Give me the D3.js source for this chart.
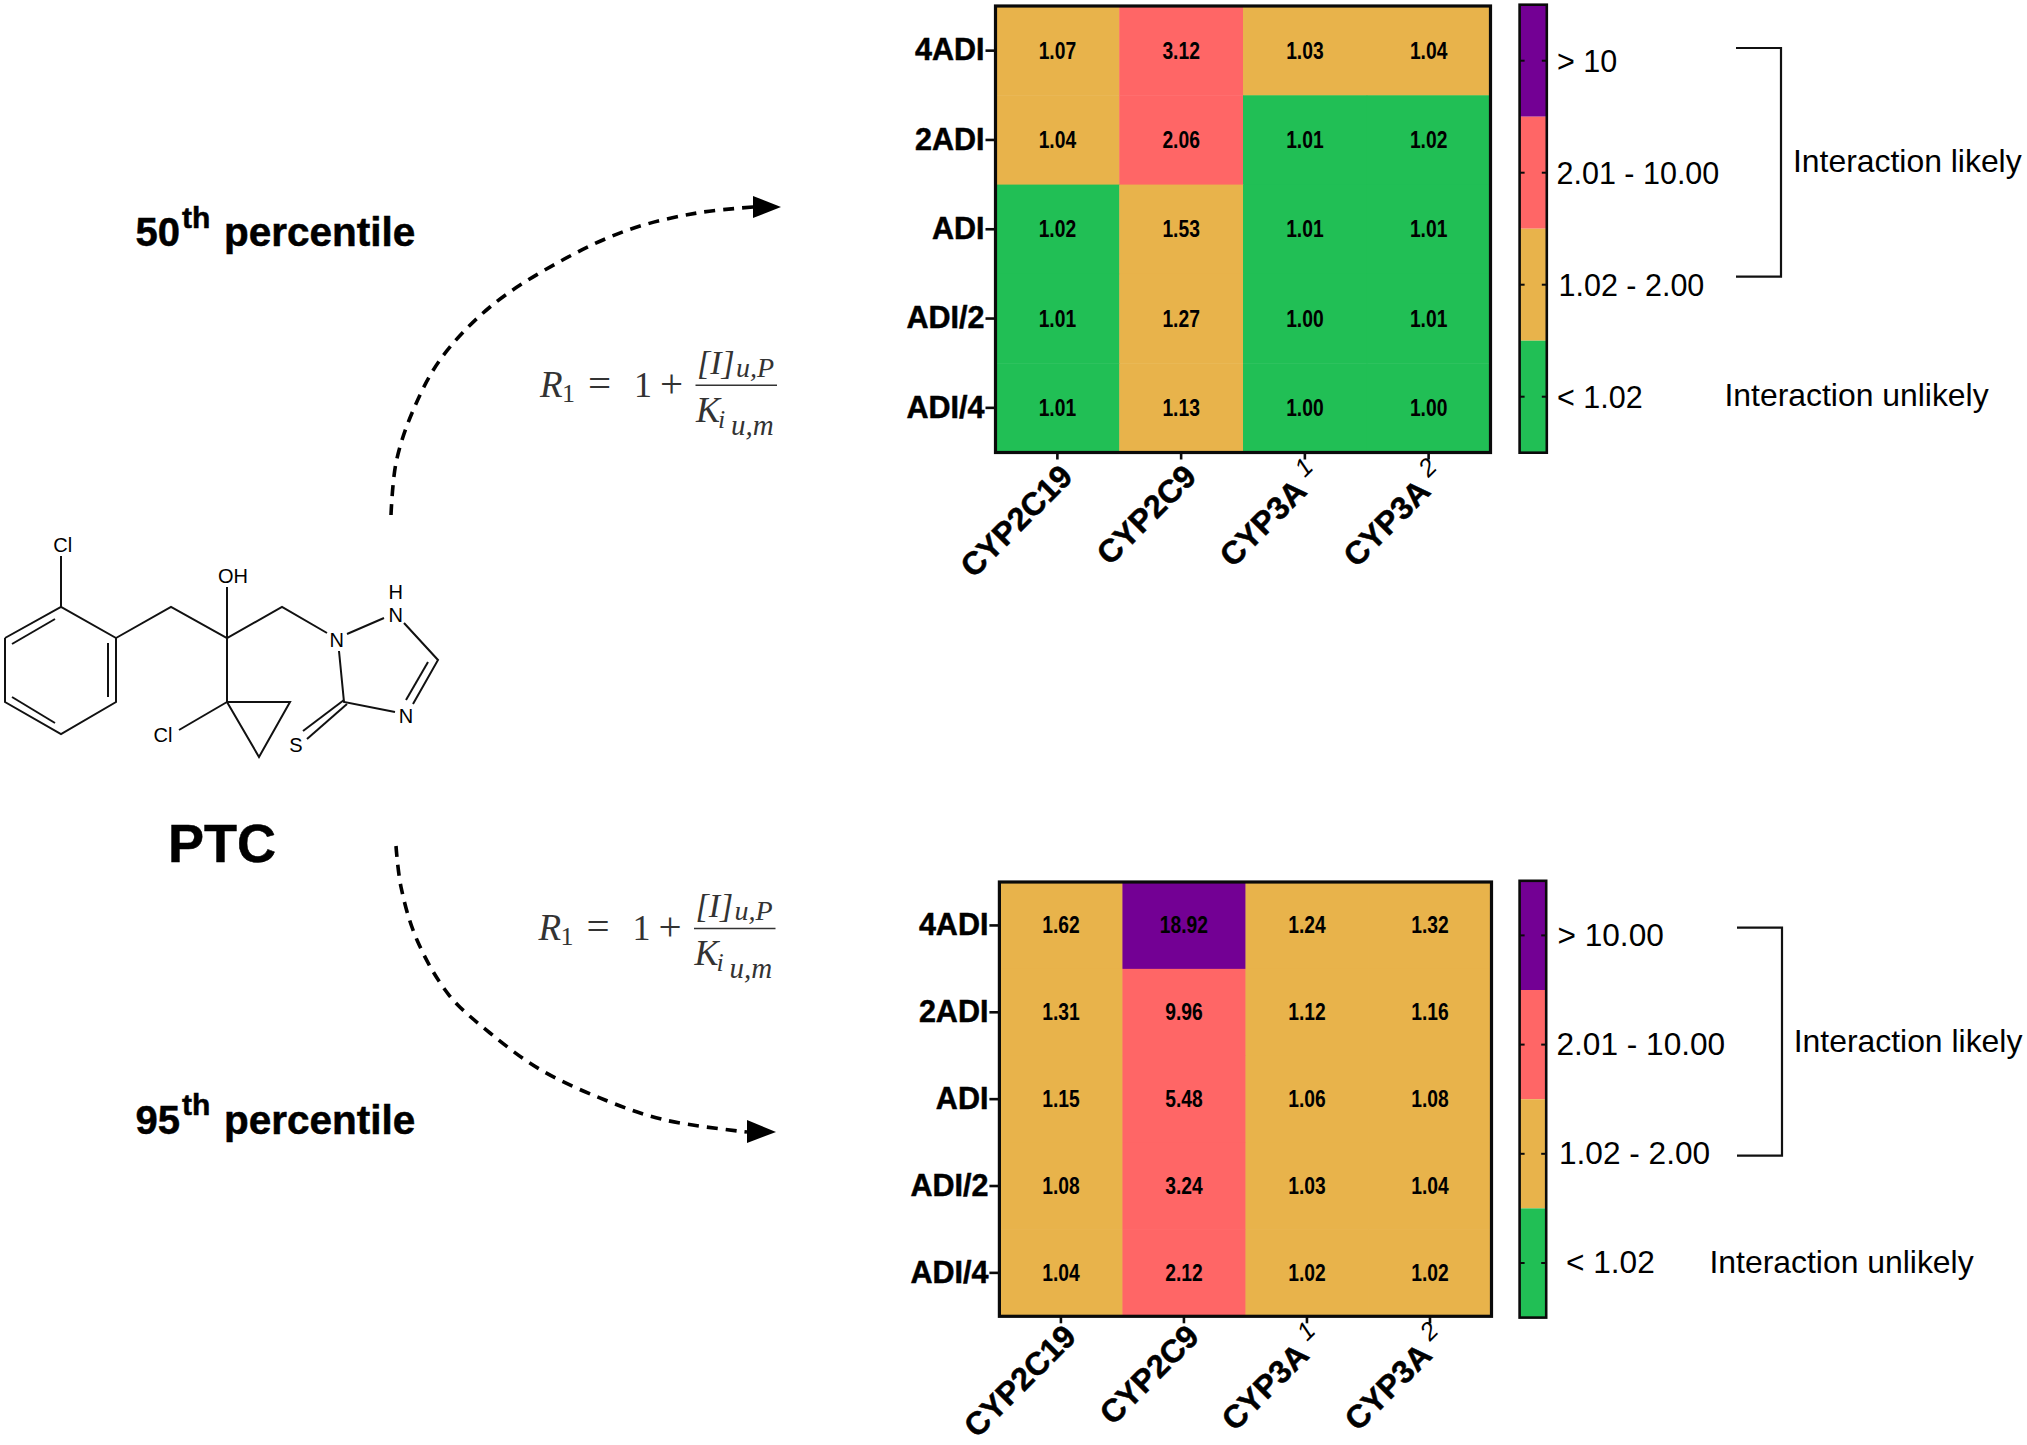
<!DOCTYPE html>
<html lang="en">
	<head>
		<meta charset="utf-8">
		<title>PTC interaction heatmaps</title>
		<script src="https://d3js.org/d3.v7.min.js"></script>
		<style type="text/css">
			body { margin: 0; background: #fff; }
			text { font-family: "Liberation Sans", Arial, sans-serif; fill: #000; }
			.heavy { stroke: #000; stroke-width: 0.5px; font-weight: bold; }
		</style>
	</head>
	<body>
		<script type="text/javascript">
			// chart values
			var doses = ["4ADI", "2ADI", "ADI", "ADI/2", "ADI/4"];
			var enzymes = ["CYP2C19", "CYP2C9", "CYP3A", "CYP3A"];
			var enzymeSup = ["", "", "1", "2"];

			var values50 = [
				[1.07, 3.12, 1.03, 1.04],
				[1.04, 2.06, 1.01, 1.02],
				[1.02, 1.53, 1.01, 1.01],
				[1.01, 1.27, 1.00, 1.01],
				[1.01, 1.13, 1.00, 1.00]
			];
			var values95 = [
				[1.62, 18.92, 1.24, 1.32],
				[1.31, 9.96, 1.12, 1.16],
				[1.15, 5.48, 1.06, 1.08],
				[1.08, 3.24, 1.03, 1.04],
				[1.04, 2.12, 1.02, 1.02]
			];

			var bandColors = ["#21bf55", "#e8b34b", "#ff6666", "#730094"];
			// the printed 1.02 falls either side of the cut in the two panels (rounding)
			var cuts50 = [1.03, 2.01, 10];
			var cuts95 = [1.02, 2.01, 10];
			var legend50 = ["> 10", "2.01 - 10.00", "1.02 - 2.00", "< 1.02"];
			var legend95 = ["> 10.00", "2.01 - 10.00", "1.02 - 2.00", "< 1.02"];

			var svg = d3.select("body").append("svg")
				.attr("width", 2027)
				.attr("height", 1445)
				.style("display", "block");

			function drawPanel(o) {
				var x = d3.scaleBand().domain(d3.range(enzymes.length)).range(o.xRange);
				var y = d3.scaleBand().domain(doses).range(o.yRange);
				var color = d3.scaleThreshold().domain(o.cuts).range(bandColors);

				var g = svg.append("g");
				var rows = g.selectAll(".row")
					.data(o.values)
					.enter().append("g")
					.attr("class", "row");

				rows.each(function(row, i) {
					var r = d3.select(this);
					r.selectAll("rect")
						.data(row)
						.enter().append("rect")
						.attr("x", function(d, j) { return x(j); })
						.attr("y", y(doses[i]))
						.attr("width", x.bandwidth() + 0.5)
						.attr("height", y.bandwidth() + 0.5)
						.attr("fill", function(d) { return color(d); });
					// squeezed bold numbers like the original
					r.selectAll("text")
						.data(row)
						.enter().append("text")
						.attr("transform", function(d, j) {
							return "translate(" + (x(j) + x.bandwidth() / 2) + "," + (y(doses[i]) + y.bandwidth() / 2 + 8) + ") scale(0.82,1)";
						})
						.attr("text-anchor", "middle")
						.style("font-size", "23.5px")
						.style("font-weight", "bold")
						.text(function(d) { return d.toFixed(2); });
				});

				g.append("rect")
					.attr("x", o.xRange[0])
					.attr("y", o.yRange[0])
					.attr("width", o.xRange[1] - o.xRange[0])
					.attr("height", o.yRange[1] - o.yRange[0])
					.attr("fill", "none")
					.attr("stroke", "#0a0a0a")
					.attr("stroke-width", 3.2);

				var axisL = g.append("g")
					.attr("transform", "translate(" + o.xRange[0] + ",0)")
					.call(d3.axisLeft(y).tickSize(10).tickPadding(1));
				axisL.select(".domain").remove();
				axisL.selectAll("line").attr("stroke-width", 2.6).attr("stroke", "#0a0a0a");
				axisL.selectAll("text")
					.attr("class", "heavy")
					.style("font-size", "30.5px");

				var axisB = g.append("g")
					.attr("transform", "translate(0," + o.yRange[1] + ")")
					.call(d3.axisBottom(x).tickSize(7).tickFormat(function(i) { return enzymes[i]; }));
				axisB.select(".domain").remove();
				axisB.selectAll("line").attr("stroke-width", 2.6).attr("stroke", "#0a0a0a");
				axisB.selectAll("text")
					.attr("x", 0).attr("y", 0).attr("dy", 0)
					.attr("text-anchor", "end")
					.attr("transform", function(i) {
						return enzymeSup[i] ? "translate(19,25) rotate(-45)" : "translate(17," + o.labelY + ") rotate(-45)";
					})
					.attr("class", "heavy")
					.style("font-size", "32px")
					.each(function(i) {
						if (enzymeSup[i]) {
							d3.select(this).append("tspan")
								.attr("dx", 8)
								.attr("dy", -13)
								.style("font-size", "25px")
								.style("font-weight", "normal")
								.style("font-style", "italic")
								.style("stroke-width", 0)
								.text(enzymeSup[i]);
						}
					});

				// colour key
				var ky = d3.scaleBand().domain(o.legend).range(o.keyY);
				var key = svg.append("g");
				key.selectAll("rect")
					.data(o.legend)
					.enter().append("rect")
					.attr("x", o.keyX[0])
					.attr("y", function(d) { return ky(d); })
					.attr("width", o.keyX[1] - o.keyX[0])
					.attr("height", ky.bandwidth())
					.attr("fill", function(d, i) { return bandColors[bandColors.length - 1 - i]; });
				key.append("rect")
					.attr("x", o.keyX[0])
					.attr("y", o.keyY[0])
					.attr("width", o.keyX[1] - o.keyX[0])
					.attr("height", o.keyY[1] - o.keyY[0])
					.attr("fill", "none")
					.attr("stroke", "#0a0a0a")
					.attr("stroke-width", 2.6);

				var keyL = key.append("g")
					.attr("transform", "translate(" + o.keyX[0] + ",0)")
					.call(d3.axisLeft(ky).tickSize(-5).tickFormat(""));
				var keyR = key.append("g")
					.attr("transform", "translate(" + o.keyX[1] + ",0)")
					.call(d3.axisRight(ky).tickSize(-5));
				keyL.select(".domain").remove();
				keyR.select(".domain").remove();
				key.selectAll(".tick line").attr("stroke-width", 2).attr("stroke", "#0a0a0a");
				keyR.selectAll("text")
					.attr("x", function(d, i) { return o.keyLabelX[i] - o.keyX[1]; })
					.attr("y", o.keyDy)
					.style("font-size", o.keyFont + "px");

				// bracket and notes
				svg.append("path")
					.attr("d", d3.line()([[o.bracket[0], o.bracket[2]], [o.bracket[1], o.bracket[2]], [o.bracket[1], o.bracket[3]], [o.bracket[0], o.bracket[3]]]))
					.attr("fill", "none")
					.attr("stroke", "#111")
					.attr("stroke-width", 2.2);
				svg.append("text")
					.attr("x", o.likely[0]).attr("y", o.likely[1])
					.style("font-size", "31.9px")
					.text("Interaction likely");
				svg.append("text")
					.attr("x", o.unlikely[0]).attr("y", o.unlikely[1])
					.style("font-size", "31.9px")
					.text("Interaction unlikely");
			}

			drawPanel({
				values: values50, cuts: cuts50, legend: legend50,
				xRange: [995.5, 1490.5], yRange: [6, 452.5], labelY: 26,
				keyX: [1519.6, 1546.8], keyY: [4.7, 452.7],
				keyLabelX: [1557, 1556.5, 1558.5, 1557], keyFont: 30.5, keyDy: 1.5,
				bracket: [1736, 1781, 48, 276.7],
				likely: [1793, 172], unlikely: [1724.5, 406]
			});
			drawPanel({
				values: values95, cuts: cuts95, legend: legend95,
				xRange: [999.4, 1491.5], yRange: [882, 1316.3], labelY: 22,
				keyX: [1519.6, 1546.2], keyY: [880.8, 1317.6],
				keyLabelX: [1557.5, 1556.5, 1559, 1566], keyFont: 31.6, keyDy: 0,
				bracket: [1737, 1782, 927.7, 1155.7],
				likely: [1793.7, 1051.7], unlikely: [1709.5, 1272.7]
			});

			// percentile titles
			function percentile(num, yBase, ySup) {
				svg.append("text").attr("x", 135.5).attr("y", yBase)
					.attr("class", "heavy").style("font-size", "40px").text(num);
				svg.append("text").attr("x", 182).attr("y", ySup)
					.attr("class", "heavy").style("font-size", "30px").text("th");
				svg.append("text").attr("x", 224).attr("y", yBase)
					.attr("class", "heavy").style("font-size", "40.5px").text("percentile");
			}
			percentile("50", 246, 228);
			percentile("95", 1133.5, 1115);

			svg.append("text")
				.attr("x", 222).attr("y", 862)
				.attr("text-anchor", "middle")
				.attr("class", "heavy")
				.style("font-size", "54px")
				.text("PTC");

			// dashed arrows
			var curve = d3.line().curve(d3.curveCatmullRom.alpha(0.5));
			function arrow(points, head) {
				svg.append("path")
					.attr("d", curve(points))
					.attr("fill", "none")
					.attr("stroke", "#000")
					.attr("stroke-width", 3.6)
					.attr("stroke-dasharray", "11,8");
				svg.append("path")
					.attr("d", d3.line()(head) + "Z")
					.attr("fill", "#000");
			}
			arrow([[391, 515], [396, 463], [412, 413], [440, 360], [490, 307], [559, 262], [628, 230], [697, 213], [754, 207]],
				[[753, 196], [781, 207], [753, 218]]);
			arrow([[396, 846], [401, 887], [417, 940], [449, 995], [490, 1033], [541, 1070], [605, 1100], [665, 1120], [747, 1132]],
				[[747, 1120], [776, 1132], [747, 1143]]);

			// R1 formula
			function formula(ox, oy) {
				var f = svg.append("g")
					.attr("transform", "translate(" + ox + "," + oy + ")");
				var parts = [
					["R", 0, 0, 37, "italic"], ["1", 22, 5, 26, "normal"], ["=", 48, 0, 41, "normal"],
					["1", 94, 0, 36, "normal"], ["+", 120, 0, 41, "normal"],
					["[I]", 157, -23, 34, "italic"], ["u,P", 196, -20, 28, "italic"],
					["K", 156, 25, 36, "italic"], ["i", 178, 31, 26, "italic"], ["u,m", 191, 38, 29, "italic"]
				];
				f.selectAll("text").data(parts).enter().append("text")
					.attr("x", function(d) { return d[1]; })
					.attr("y", function(d) { return d[2]; })
					.style("font-family", "'Liberation Serif', serif")
					.style("font-size", function(d) { return d[3] + "px"; })
					.style("font-style", function(d) { return d[4]; })
					.style("fill", "#333")
					.text(function(d) { return d[0]; });
				f.append("line")
					.attr("x1", 155.5).attr("x2", 237).attr("y1", -11.5).attr("y2", -11.5)
					.attr("stroke", "#333").attr("stroke-width", 1.6);
			}
			formula(540, 396.7);
			formula(538.5, 940);

			// molecule, traced in px
			var bonds = [
				[[5, 638], [61, 607], [116, 638], [116, 702], [61, 734], [5, 702], [5, 638]],
				[[12, 644], [55, 619]], [[108, 643], [108, 697]], [[12, 697], [55, 723]],
				[[61, 607], [61, 556]],
				[[116, 638], [171, 607], [227, 638], [282, 607], [327, 633]],
				[[227, 638], [227, 587]], [[227, 638], [227, 702]],
				[[227, 702], [290, 702], [259, 757], [227, 702]],
				[[227, 702], [179, 730]],
				[[347, 634], [384, 618]], [[404, 623], [438, 660], [413, 704]],
				[[428, 662], [406, 700]],
				[[395, 712], [344, 702], [339, 651]],
				[[344, 700], [303, 731]], [[347, 704], [307, 739]]
			];
			svg.append("g").selectAll("path")
				.data(bonds)
				.enter().append("path")
				.attr("d", function(d) { return d3.line()(d); })
				.attr("fill", "none")
				.attr("stroke", "#111")
				.attr("stroke-width", 2);

			var atoms = [["Cl", 62.7, 551.7], ["OH", 233, 583], ["H", 395.7, 599], ["N", 395.7, 622], ["N", 336.7, 646.7], ["N", 406, 722.7], ["S", 296, 752], ["Cl", 163, 741.7]];
			svg.append("g").selectAll("text")
				.data(atoms)
				.enter().append("text")
				.attr("x", function(d) { return d[1]; })
				.attr("y", function(d) { return d[2]; })
				.attr("text-anchor", "middle")
				.style("font-size", "20px")
				.text(function(d) { return d[0]; });
		</script>
	</body>
</html>
